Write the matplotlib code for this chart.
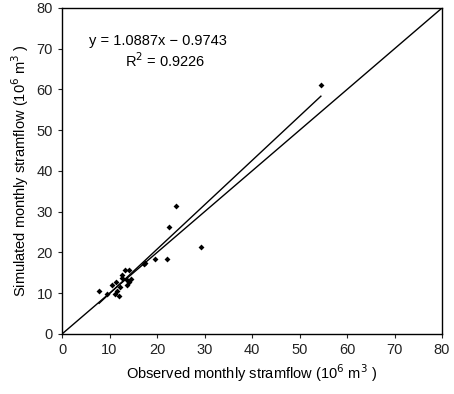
import numpy as np
import matplotlib
matplotlib.use("Agg")
import matplotlib.pyplot as plt

plt.rcParams["font.family"] = ["Liberation Sans", "DejaVu Sans"]

# observed vs simulated monthly streamflow (10^6 m3)
observed = [7.8, 9.5, 10.6, 11.3, 11.6, 11.2, 11.9, 12.3, 12.7, 13.3, 14.0, 12.6,
            13.7, 14.1, 14.5, 13.7, 17.3, 17.5, 19.5, 22.2, 22.5, 24.0, 29.2, 54.5]
simulated = [10.5, 9.9, 12.0, 12.8, 10.5, 9.7, 9.4, 11.5, 13.7, 15.8, 15.8, 14.5,
             13.3, 12.8, 13.5, 12.0, 17.1, 17.4, 18.5, 18.4, 26.3, 31.4, 21.4, 61.2]
slope, intercept = 1.0887, -0.9743
r2 = 0.9226

fig = plt.figure(figsize=(4.54, 3.94), dpi=100)
ax = fig.add_axes([0.1366, 0.1523, 0.837, 0.8274])

ax.scatter(observed, simulated, s=9, color="black", marker="D", linewidths=0, zorder=3)
ax.plot([0, 80], [0, 80], color="black", lw=1.0)
xs = np.array([min(observed), max(observed)])
ax.plot(xs, slope * xs + intercept, color="black", lw=1.0)

ax.set_xlim(0, 80)
ax.set_ylim(0, 80)
ax.set_xticks(range(0, 81, 10))
ax.set_yticks(range(0, 81, 10))
ax.tick_params(labelsize=10.5, length=3, width=0.8, colors="#222222")
for s in ax.spines.values():
    s.set_linewidth(1.0)

ax.set_xlabel("Observed monthly stramflow (10$^6$ m$^3$ )", fontsize=10.5, labelpad=4)
ax.set_ylabel("Simulated monthly stramflow (10$^6$ m$^3$ )", fontsize=10.5, labelpad=4)

ax.text(0.07, 0.885, "y = 1.0887x − 0.9743", transform=ax.transAxes, fontsize=10.5)
ax.text(0.165, 0.82, "R$^2$ = 0.9226", transform=ax.transAxes, fontsize=10.5)

fig.savefig("out.png", dpi=100)
